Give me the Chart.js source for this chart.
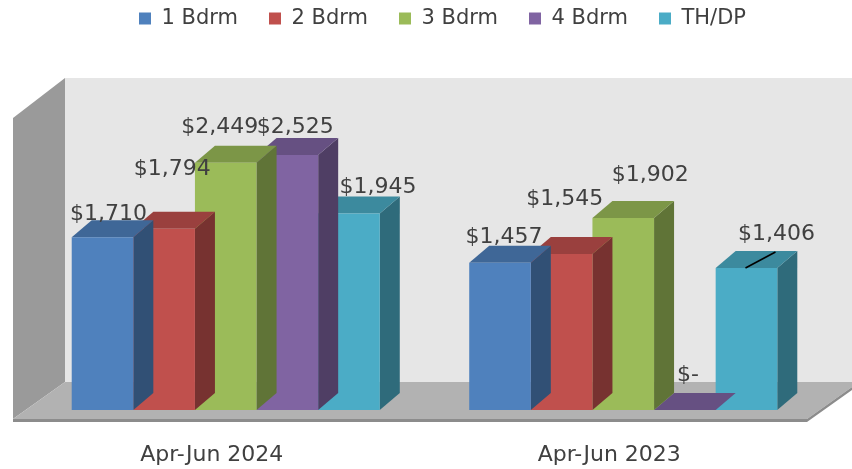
<!DOCTYPE html>
<html>
<head>
<meta charset="utf-8">
<script src="https://cdn.jsdelivr.net/npm/chart.js@4.4.1/dist/chart.umd.min.js"></script>
<style>
  html, body { margin: 0; padding: 0; background: #fff; }
</style>
</head>
<body>
<canvas id="chart" width="852" height="469"></canvas>
<script>
const categories = ['Apr-Jun 2024', 'Apr-Jun 2023'];
const seriesNames = ['1 Bdrm', '2 Bdrm', '3 Bdrm', '4 Bdrm', 'TH/DP'];
const bdrm1 = [1710, 1457];
const bdrm2 = [1794, 1545];
const bdrm3 = [2449, 1902];
const bdrm4 = [2525, 0];
const thdp = [1945, 1406];
const seriesColors = ['#4F81BD', '#C0504D', '#9BBB59', '#8064A2', '#4BACC6'];

const FONT = 'DejaVu Sans';
const TEXT = '#404040';

function shade(hex, f) {
  const n = parseInt(hex.slice(1), 16);
  const r = Math.round(((n >> 16) & 255) * f), g = Math.round(((n >> 8) & 255) * f), b = Math.round((n & 255) * f);
  return `rgb(${r},${g},${b})`;
}
function poly(ctx, pts, fill) {
  ctx.beginPath();
  ctx.moveTo(pts[0][0], pts[0][1]);
  for (let i = 1; i < pts.length; i++) ctx.lineTo(pts[i][0], pts[i][1]);
  ctx.closePath();
  ctx.fillStyle = fill;
  ctx.fill();
}
const money = v => v === 0 ? '$-' : '$' + v.toLocaleString('en-US');

// excel-ish 3d box: walls, floor, bar tops/sides, labels
const box3d = {
  id: 'box3d',
  afterLayout(chart) {
    const lg = chart.legend;
    lg.left += 18; lg.right += 18;
    lg.top -= 68; lg.bottom -= 68;
  },
  beforeDatasetsDraw(chart) {
    const { ctx, chartArea: a, scales: { y } } = chart;
    const base = y.getPixelForValue(0);
    const wallTop = y.getPixelForValue(y.max) - 29;
    const fy = base + 9, by = base - 28;
    const fl = a.left - 14, bl = a.left + 38;
    const fr = a.right - 15, br = fr + 52;
    ctx.save();
    poly(ctx, [[bl, wallTop], [chart.width, wallTop], [chart.width, by], [bl, by]], '#e6e6e6');
    poly(ctx, [[fl, wallTop + 40], [bl, wallTop], [bl, by], [fl, fy]], '#9a9a9a');
    poly(ctx, [[fl, fy], [bl, by], [br, by], [fr, fy]], '#b2b2b2');
    poly(ctx, [[fl, fy], [fr, fy], [br, by], [br, by + 3], [fr, fy + 3], [fl, fy + 3]], '#8c8c8c');
    ctx.restore();
  },
  beforeDatasetDraw(chart, args, opts) {
    const { ctx } = chart;
    const color = chart.data.datasets[args.index].backgroundColor;
    const { dx, dy } = opts;
    ctx.save();
    args.meta.data.forEach(el => {
      const { x, y, base, width } = el.getProps(['x', 'y', 'base', 'width'], true);
      const l = x - width / 2, r = x + width / 2;
      poly(ctx, [[r, y], [r + dx, y - dy], [r + dx, base - dy], [r, base]], shade(color, 0.62));
      poly(ctx, [[l, y], [l + dx, y - dy], [r + dx, y - dy], [r, y]], shade(color, 0.8));
    });
    ctx.restore();
  },
  afterDatasetsDraw(chart, args, opts) {
    const { ctx } = chart;
    ctx.save();
    ctx.font = `22px "${FONT}"`;
    ctx.fillStyle = TEXT;
    ctx.textAlign = 'center';
    ctx.textBaseline = 'alphabetic';
    chart.data.datasets.forEach((ds, di) => {
      chart.getDatasetMeta(di).data.forEach((el, i) => {
        const { x, y } = el.getProps(['x', 'y'], true);
        const [ox, oy] = opts.nudge[di][i];
        ctx.fillText(money(ds.data[i]), x + ox, y + oy + 8);
      });
    });
    // leader line on the TH/DP 2023 label
    const ld = opts.leader;
    const el = chart.getDatasetMeta(ld.dataset).data[ld.index];
    const { x, y } = el.getProps(['x', 'y'], true);
    ctx.strokeStyle = '#000';
    ctx.lineWidth = 1.5;
    ctx.beginPath();
    ctx.moveTo(x - 1, y);
    ctx.lineTo(x + 29, y - 16);
    ctx.stroke();
    ctx.restore();
  }
};

const seriesData = [bdrm1, bdrm2, bdrm3, bdrm4, thdp];

new Chart(document.getElementById('chart'), {
  type: 'bar',
  data: {
    labels: categories,
    datasets: seriesNames.map((name, i) => ({
      label: name,
      data: seriesData[i],
      backgroundColor: seriesColors[i],
      borderWidth: 0,
      categoryPercentage: 0.775,
      barPercentage: 1.0
    }))
  },
  options: {
    responsive: false,
    animation: false,
    devicePixelRatio: 1,
    layout: { padding: { top: 45, left: 27, right: 30, bottom: 1 } },
    scales: {
      x: {
        grid: { display: false, drawTicks: false },
        border: { display: false },
        ticks: { padding: 32, labelOffset: -14, maxRotation: 0, color: TEXT, font: { family: FONT, size: 22 } },
        afterFit(scale) { scale.height = 58; }
      },
      y: { display: false, min: 0, max: 3000 }
    },
    plugins: {
      legend: {
        position: 'top',
        labels: { color: TEXT, font: { family: FONT, size: 21 }, boxWidth: 12, boxHeight: 12, padding: 31 }
      },
      tooltip: { enabled: false },
      box3d: {
        dx: 20, dy: 17,
        nudge: [
          [[6, -25], [4, -28]],
          [[8, -62], [3, -57]],
          [[-6, -38], [27, -45]],
          [[8, -30], [3, -37]],
          [[29, -29], [30, -36]]
        ],
        leader: { dataset: 4, index: 1 }
      }
    }
  },
  plugins: [box3d]
});
</script>
</body>
</html>
